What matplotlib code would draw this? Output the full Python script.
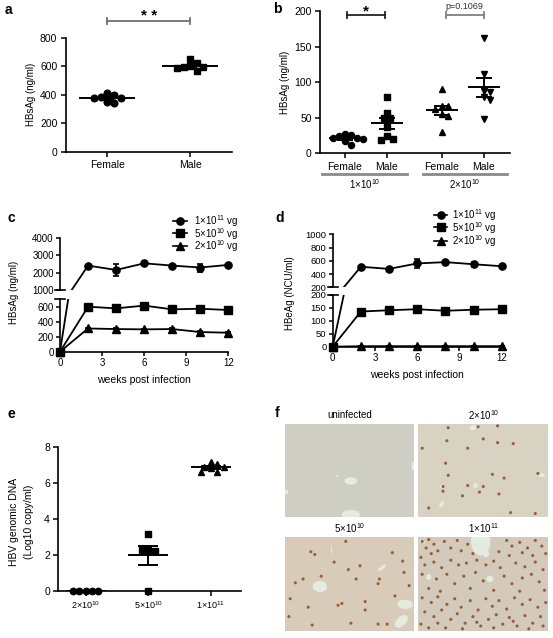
import numpy as np
import matplotlib
matplotlib.use('Agg')
import matplotlib.pyplot as plt
from matplotlib.lines import Line2D
from matplotlib.patches import Ellipse

plt.rcParams['font.family'] = ['Liberation Sans', 'DejaVu Sans']
plt.rcParams['mathtext.fontset'] = 'custom'
plt.rcParams['mathtext.rm'] = 'Liberation Sans'
plt.rcParams['mathtext.it'] = 'Liberation Sans:italic'
plt.rcParams['mathtext.bf'] = 'Liberation Sans:bold'

# ---- data ----
# a: HBsAg by sex
a_categories = ['Female', 'Male']
a_female = [409, 398, 381, 376, 374, 351, 339]
a_male = [650, 620, 601, 596, 592, 585, 568]

# b: HBsAg by sex and dose
b_categories = ['Female', 'Male', 'Female', 'Male']
b_female_1e10 = [27, 26, 24, 22, 21, 20, 17, 12]
b_male_1e10 = [79, 57, 50, 49, 37, 25, 20, 19]
b_female_2e10 = [90, 67, 66, 62, 55, 52, 30]
b_male_2e10 = [162, 112, 87, 86, 79, 75, 48]
b_dose_labels = ['1×10$^{10}$', '2×10$^{10}$']
b_pvalue = 'p=0.1069'

# c/d: time course
weeks = [0, 2, 4, 6, 8, 10, 12]
dose_labels = ['1×10$^{11}$ vg', '5×10$^{10}$ vg', '2×10$^{10}$ vg']
c_hbsag_1e11 = [0, 2400, 2150, 2530, 2400, 2290, 2440]
c_err_1e11 = [0, 60, 320, 70, 50, 230, 60]
c_hbsag_5e10 = [0, 600, 578, 615, 565, 573, 556]
c_err_5e10 = [0, 15, 15, 20, 10, 15, 10]
c_hbsag_2e10 = [0, 310, 302, 298, 302, 262, 253]
c_err_2e10 = [0, 10, 10, 10, 10, 10, 10]

d_hbeag_1e11 = [0, 510, 478, 560, 580, 548, 518]
d_err_1e11 = [0, 15, 15, 65, 10, 40, 15]
d_hbeag_5e10 = [0, 136, 141, 145, 139, 143, 145]
d_err_5e10 = [0, 5, 3, 6, 3, 4, 4]
d_hbeag_2e10 = [0, 2, 2, 2, 2, 2, 2]
d_err_2e10 = [0, 0, 0, 0, 0, 0, 0]

# e: HBV genomic DNA
e_categories = ['2×10$^{10}$', '5×10$^{10}$', '1×10$^{11}$']
e_2e10 = [0, 0, 0, 0, 0]
e_5e10 = [3.15, 2.25, 2.2, 2.25, 0]
e_1e11 = [7.15, 7.05, 6.9, 6.85, 6.8, 6.6, 6.6]

# f: liver sections (HBcAg staining)
f_titles = ['uninfected', '2×10$^{10}$', '5×10$^{10}$', '1×10$^{11}$']
f_bg = ['#cfcec2', '#d7d2c2', '#d9cbba', '#d3cabb']
f_vessels = [
    [(0.51, 0.61, 0.10, 0.08, 0), (0.51, 0.97, 0.14, 0.10, 0), (0.01, 0.73, 0.03, 0.05, 0),
     (0.40, 0.56, 0.02, 0.02, 0), (0.99, 0.45, 0.02, 0.10, 0)],
    [(0.42, 0.04, 0.05, 0.06, 30), (0.44, 0.66, 0.04, 0.05, 0), (0.18, 0.67, 0.03, 0.04, 0),
     (0.18, 0.86, 0.03, 0.07, 20), (0.95, 0.55, 0.05, 0.04, 0)],
    [(0.27, 0.53, 0.11, 0.12, -20), (0.75, 0.33, 0.03, 0.09, 40), (0.93, 0.72, 0.12, 0.10, 10),
     (0.90, 0.90, 0.08, 0.15, 30), (0.36, 0.14, 0.01, 0.08, 0)],
    [(0.48, 0.05, 0.15, 0.30, 0), (0.52, 0.18, 0.05, 0.08, 0), (0.55, 0.45, 0.05, 0.07, 0),
     (0.08, 0.43, 0.04, 0.06, 0), (0.03, 0.05, 0.05, 0.03, 30)],
]
f_dots = [
    [],
    [(0.03, 0.26), (0.22, 0.18), (0.23, 0.04), (0.38, 0.26), (0.46, 0.03), (0.50, 0.16),
     (0.61, 0.20), (0.61, 0.02), (0.73, 0.21), (0.21, 0.42), (0.23, 0.55), (0.66, 0.58),
     (0.57, 0.54), (0.38, 0.66), (0.19, 0.67), (0.19, 0.72), (0.50, 0.67), (0.62, 0.75),
     (0.34, 0.77), (0.47, 0.73), (0.08, 0.90), (0.71, 0.95), (0.90, 0.96), (0.92, 0.53)],
    [(0.20, 0.16), (0.23, 0.19), (0.38, 0.27), (0.49, 0.35), (0.58, 0.31), (0.83, 0.17),
     (0.91, 0.26), (0.92, 0.38), (0.04, 0.66), (0.18, 0.75), (0.41, 0.73), (0.44, 0.71),
     (0.62, 0.78), (0.62, 0.69), (0.72, 0.50), (0.73, 0.45), (0.03, 0.85), (0.21, 0.94),
     (0.51, 0.92), (0.72, 0.93), (0.79, 0.93), (0.08, 0.49), (0.47, 0.05), (0.14, 0.45),
     (0.85, 0.63), (0.96, 0.52), (0.28, 0.42), (0.55, 0.45)],
    [(0.03, 0.05), (0.08, 0.03), (0.12, 0.08), (0.06, 0.12), (0.15, 0.15), (0.20, 0.05),
     (0.25, 0.12), (0.30, 0.04), (0.33, 0.15), (0.38, 0.08), (0.42, 0.18), (0.10, 0.18),
     (0.02, 0.22), (0.68, 0.04), (0.72, 0.10), (0.78, 0.06), (0.84, 0.12), (0.90, 0.04),
     (0.95, 0.10), (0.62, 0.16), (0.70, 0.20), (0.88, 0.20), (0.98, 0.18), (0.80, 0.17),
     (0.05, 0.30), (0.12, 0.27), (0.18, 0.33), (0.25, 0.25), (0.31, 0.30), (0.37, 0.28),
     (0.45, 0.25), (0.52, 0.30), (0.58, 0.26), (0.63, 0.33), (0.75, 0.28), (0.82, 0.32),
     (0.90, 0.27), (0.96, 0.35), (0.03, 0.40), (0.14, 0.45), (0.22, 0.40), (0.28, 0.50),
     (0.35, 0.42), (0.44, 0.38), (0.50, 0.47), (0.66, 0.42), (0.72, 0.50), (0.80, 0.44),
     (0.87, 0.40), (0.93, 0.48), (0.08, 0.55), (0.17, 0.58), (0.40, 0.55), (0.58, 0.57),
     (0.78, 0.58), (0.97, 0.57), (0.03, 0.65), (0.10, 0.70), (0.15, 0.64), (0.22, 0.72),
     (0.28, 0.66), (0.33, 0.75), (0.40, 0.68), (0.46, 0.78), (0.52, 0.66), (0.57, 0.74),
     (0.62, 0.68), (0.68, 0.77), (0.74, 0.65), (0.80, 0.72), (0.86, 0.67), (0.92, 0.75),
     (0.98, 0.70), (0.05, 0.80), (0.12, 0.85), (0.18, 0.78), (0.25, 0.88), (0.30, 0.82),
     (0.36, 0.92), (0.42, 0.85), (0.48, 0.95), (0.54, 0.88), (0.60, 0.83), (0.65, 0.93),
     (0.70, 0.86), (0.76, 0.95), (0.82, 0.84), (0.88, 0.92), (0.94, 0.85), (0.02, 0.93),
     (0.08, 0.97), (0.15, 0.92), (0.21, 0.97), (0.34, 0.98), (0.45, 0.91), (0.58, 0.97),
     (0.73, 0.90), (0.85, 0.98), (0.96, 0.95)],
]

W, H = 553, 638
fig = plt.figure(figsize=(W / 100, H / 100), dpi=100)


def px_axes(x0, y0, x1, y1):
    return fig.add_axes([x0 / W, 1 - y1 / H, (x1 - x0) / W, (y1 - y0) / H])


def style(ax, tick_len=3.5, pad=2.5, fs=7):
    for s in ['top', 'right']:
        ax.spines[s].set_visible(False)
    for s in ['left', 'bottom']:
        ax.spines[s].set_linewidth(1.2)
    ax.tick_params(direction='out', length=tick_len, width=1.1, pad=pad, labelsize=fs)


def column_scatter(ax, xpos, values, marker, ms, half_w, cap):
    vals = np.asarray(values, float)
    d = ms * 100 / 72
    ys = ax.transData.transform(np.column_stack([np.full(len(vals), xpos), vals]))[:, 1]
    steps = [0.0] + [s * k * 0.5 * d for k in range(1, 30) for s in (1, -1)]
    placed, offs = [], []
    for y in ys:
        for c in steps:
            if all(np.hypot(c - px, y - py) >= d * 0.9 for px, py in placed):
                break
        placed.append((c, y))
        offs.append(c)
    x0 = ax.transData.transform((xpos, 0))[0]
    xs = ax.transData.inverted().transform(np.column_stack([x0 + np.array(offs), ys]))[:, 0]
    ax.plot(xs, vals, ls='none', marker=marker, ms=ms, color='k', clip_on=False, zorder=3)
    mean = vals.mean()
    sem = vals.std(ddof=1) / np.sqrt(len(vals))
    ax.hlines(mean, xpos - half_w, xpos + half_w, color='k', lw=1.4, zorder=4)
    ax.errorbar(xpos, mean, yerr=sem, fmt='none', ecolor='k', elinewidth=1.4,
                capsize=cap, capthick=1.4, zorder=4)


def bracket(ax, x1, x2, y, dy, color):
    ax.plot([x1, x2], [y, y], color=color, lw=1.3, clip_on=False)
    ax.plot([x1, x1], [y - dy, y + dy], color=color, lw=1.3, clip_on=False)
    ax.plot([x2, x2], [y - dy, y + dy], color=color, lw=1.3, clip_on=False)


def panel_label(x, y, s):
    fig.text(x / W, 1 - y / H, s, fontsize=10, fontweight='bold', ha='left', va='center')


# ---- a ----
ax = px_axes(65.7, 37.7, 231.7, 151.7)
style(ax, fs=7.5)
ax.set_xlim(0.5, 2.5)
ax.set_ylim(0, 800)
ax.set_yticks([0, 200, 400, 600, 800])
ax.set_xticks([1, 2])
ax.set_xticklabels(a_categories, fontsize=7.5)
column_scatter(ax, 1, a_female, 'o', 4.8, 0.34, 5)
column_scatter(ax, 2, a_male, 's', 4.6, 0.34, 5)
ax.set_ylabel('HBsAg (ng/ml)', fontsize=7, va='center')
ax.yaxis.set_label_coords((31 - 65.7) / 166, 0.5)
bracket(ax, 1, 2, 917, 20, '#707070')
ax.text(1.5, 955, '* *', ha='center', va='center', fontsize=11, fontweight='bold')
panel_label(5, 10, 'a')

# ---- b ----
ax = px_axes(320, 11, 510, 153.3)
style(ax, fs=7.5)
b_pos = [1, 2, 3.3, 4.3]
ax.set_xlim((320 - 345) / 42 + 1, (510 - 345) / 42 + 1)
ax.set_ylim(0, 200)
ax.set_yticks([0, 50, 100, 150, 200])
ax.set_xticks(b_pos)
ax.set_xticklabels(b_categories, fontsize=7.5)
column_scatter(ax, b_pos[0], b_female_1e10, 'o', 4.4, 0.38, 5.5)
column_scatter(ax, b_pos[1], b_male_1e10, 's', 4.6, 0.38, 5.5)
column_scatter(ax, b_pos[2], b_female_2e10, '^', 4.4, 0.38, 5.5)
column_scatter(ax, b_pos[3], b_male_2e10, 'v', 4.4, 0.38, 5.5)
ax.set_ylabel('HBsAg (ng/ml)', fontsize=7, va='center')
ax.yaxis.set_label_coords((285 - 320) / 190, 0.5)
bracket(ax, 1.05, 1.95, 194.4, 4, '#222222')
ax.text(1.5, 200, '*', ha='center', va='center', fontsize=11, fontweight='bold')
bracket(ax, 3.4, 4.3, 194.4, 4, '#808080')
ax.text(3.85, 207, b_pvalue, ha='center', va='center', fontsize=6.5, color='#333333')
for (x1, x2), lab in zip([(0.45, 2.47), (2.86, 4.86)], b_dose_labels):
    ax.plot([x1, x2], [-29.5, -29.5], color='#8a8a8a', lw=2, clip_on=False)
    ax.text((x1 + x2) / 2, -43, lab, ha='center', va='center', fontsize=7)
panel_label(273, 9, 'b')


# ---- c / d broken axes ----
def broken_panel(top_box, bot_box, top_lim, top_ticks, bot_lim, bot_ticks, series, errs, fs):
    ax_t = px_axes(*top_box)
    ax_b = px_axes(*bot_box)
    style(ax_t, tick_len=3, pad=1.5, fs=fs)
    style(ax_b, tick_len=3, pad=1.5, fs=fs)
    ax_t.spines['bottom'].set_visible(False)
    ax_t.tick_params(axis='x', bottom=False, labelbottom=False)
    for a_ in (ax_t, ax_b):
        a_.set_xlim(0, 12)
    ax_b.set_xticks([0, 3, 6, 9, 12])
    ax_b.tick_params(axis='x', labelsize=7)
    ax_t.set_ylim(*top_lim)
    ax_t.set_yticks(top_ticks)
    ax_b.set_ylim(*bot_lim)
    ax_b.set_yticks(bot_ticks)
    markers = ['o', 's', '^']
    w = np.array(weeks, float)
    for a_ in (ax_t, ax_b):
        lo, hi = a_.get_ylim()
        for vals, err, mk in zip(series, errs, markers):
            v = np.array(vals, float)
            a_.plot(w, v, color='k', lw=1.3, zorder=2)
            m = (v >= lo) & (v <= hi)
            a_.errorbar(w[m], v[m], yerr=np.array(err, float)[m], fmt=mk, ms=5.2, color='k',
                        ecolor='k', elinewidth=1.2, capsize=2.5, capthick=1.2,
                        clip_on=False, zorder=3)
    ax_t.plot([-0.03, 0.03], [0, 0], transform=ax_t.transAxes, color='k', lw=1.2, clip_on=False)
    ax_b.plot([-0.03, 0.03], [1, 1], transform=ax_b.transAxes, color='k', lw=1.2, clip_on=False)
    ax_b.set_xlabel('weeks post infection', fontsize=7.5, labelpad=5)
    return ax_t, ax_b


def dose_key(x0, x1, tx, rows):
    for y, mk, lab in zip(rows, ['o', 's', '^'], dose_labels):
        fig.add_artist(Line2D([x0 / W, x1 / W], [1 - y / H] * 2, color='k', lw=1.2))
        fig.add_artist(Line2D([(x0 + x1) / 2 / W], [1 - y / H], marker=mk, ms=5.2,
                              color='k', ls='none'))
        fig.text(tx / W, 1 - (y + 0.5) / H, lab, fontsize=7, va='center', ha='left')


broken_panel((60, 237.7, 228.3, 290), (60, 299, 228.3, 351.7),
             (1000, 4000), [1000, 2000, 3000, 4000], (0, 703), [0, 200, 400, 600],
             [c_hbsag_1e11, c_hbsag_5e10, c_hbsag_2e10], [c_err_1e11, c_err_5e10, c_err_2e10], 7)
fig.text(14 / W, 1 - 292 / H, 'HBsAg (ng/ml)', rotation=90, fontsize=7, ha='center', va='center')
dose_key(173, 187, 194, [221, 233.3, 245.7])
panel_label(7, 218, 'c')

broken_panel((332.7, 234.3, 501.7, 287.3), (332.7, 295, 501.7, 346.7),
             (200, 1000), [200, 400, 600, 800, 1000], (0, 200), [0, 50, 100, 150, 200],
             [d_hbeag_1e11, d_hbeag_5e10, d_hbeag_2e10], [d_err_1e11, d_err_5e10, d_err_2e10], 6.8)
fig.text(290 / W, 1 - 293 / H, 'HBeAg (NCU/ml)', rotation=90, fontsize=7, ha='center', va='center')
dose_key(434, 447, 452, [215, 227.3, 240.7])
panel_label(275, 218, 'd')

# ---- e ----
ax = px_axes(58.3, 446.7, 240.7, 590.7)
style(ax, fs=7.5)
ax.set_xlim((58.3 - 85.7) / 62.5 + 1, (240.7 - 85.7) / 62.5 + 1)
ax.set_ylim(0, 8)
ax.set_yticks([0, 2, 4, 6, 8])
ax.set_xticks([1, 2, 3])
ax.set_xticklabels(e_categories, fontsize=6.5)
column_scatter(ax, 1, e_2e10, 'o', 4.6, 0.32, 7.5)
column_scatter(ax, 2, e_5e10, 's', 4.6, 0.32, 7.5)
column_scatter(ax, 3, e_1e11, '^', 4.8, 0.32, 7.5)
fig.text(21.5 / W, 1 - 522 / H, 'HBV genomic DNA\n(Log10 copy/ml)', rotation=90, fontsize=7.5,
         ha='center', va='center', multialignment='center', linespacing=1.6)
panel_label(7, 414, 'e')

# ---- f ----
boxes = [(285, 424, 414.3, 517.3), (418.3, 424, 548.3, 517.3),
         (285, 536.7, 414.3, 630.7), (418.3, 536.7, 548.3, 630.7)]
for box, title, bg, vessels, dots in zip(boxes, f_titles, f_bg, f_vessels, f_dots):
    ax = px_axes(*box)
    ax.set_xlim(0, 1)
    ax.set_ylim(1, 0)
    ax.set_facecolor(bg)
    ax.set_xticks([])
    ax.set_yticks([])
    for s in ax.spines.values():
        s.set_visible(False)
    for (cx, cy, ew, eh, ang) in vessels:
        ax.add_patch(Ellipse((cx, cy), ew, eh, angle=ang, facecolor='#e5ecdf', edgecolor='none'))
    if dots:
        dx, dy = zip(*dots)
        ax.scatter(dx, dy, s=5, color='#8c4a22', edgecolors='none', alpha=0.85)
    ax.text(0.5, 1.0 + 8.5 / (box[3] - box[1]), title, transform=ax.transAxes,
            ha='center', va='center', fontsize=7)
panel_label(275, 413, 'f')

fig.savefig('out.png', dpi=100, facecolor='white')
